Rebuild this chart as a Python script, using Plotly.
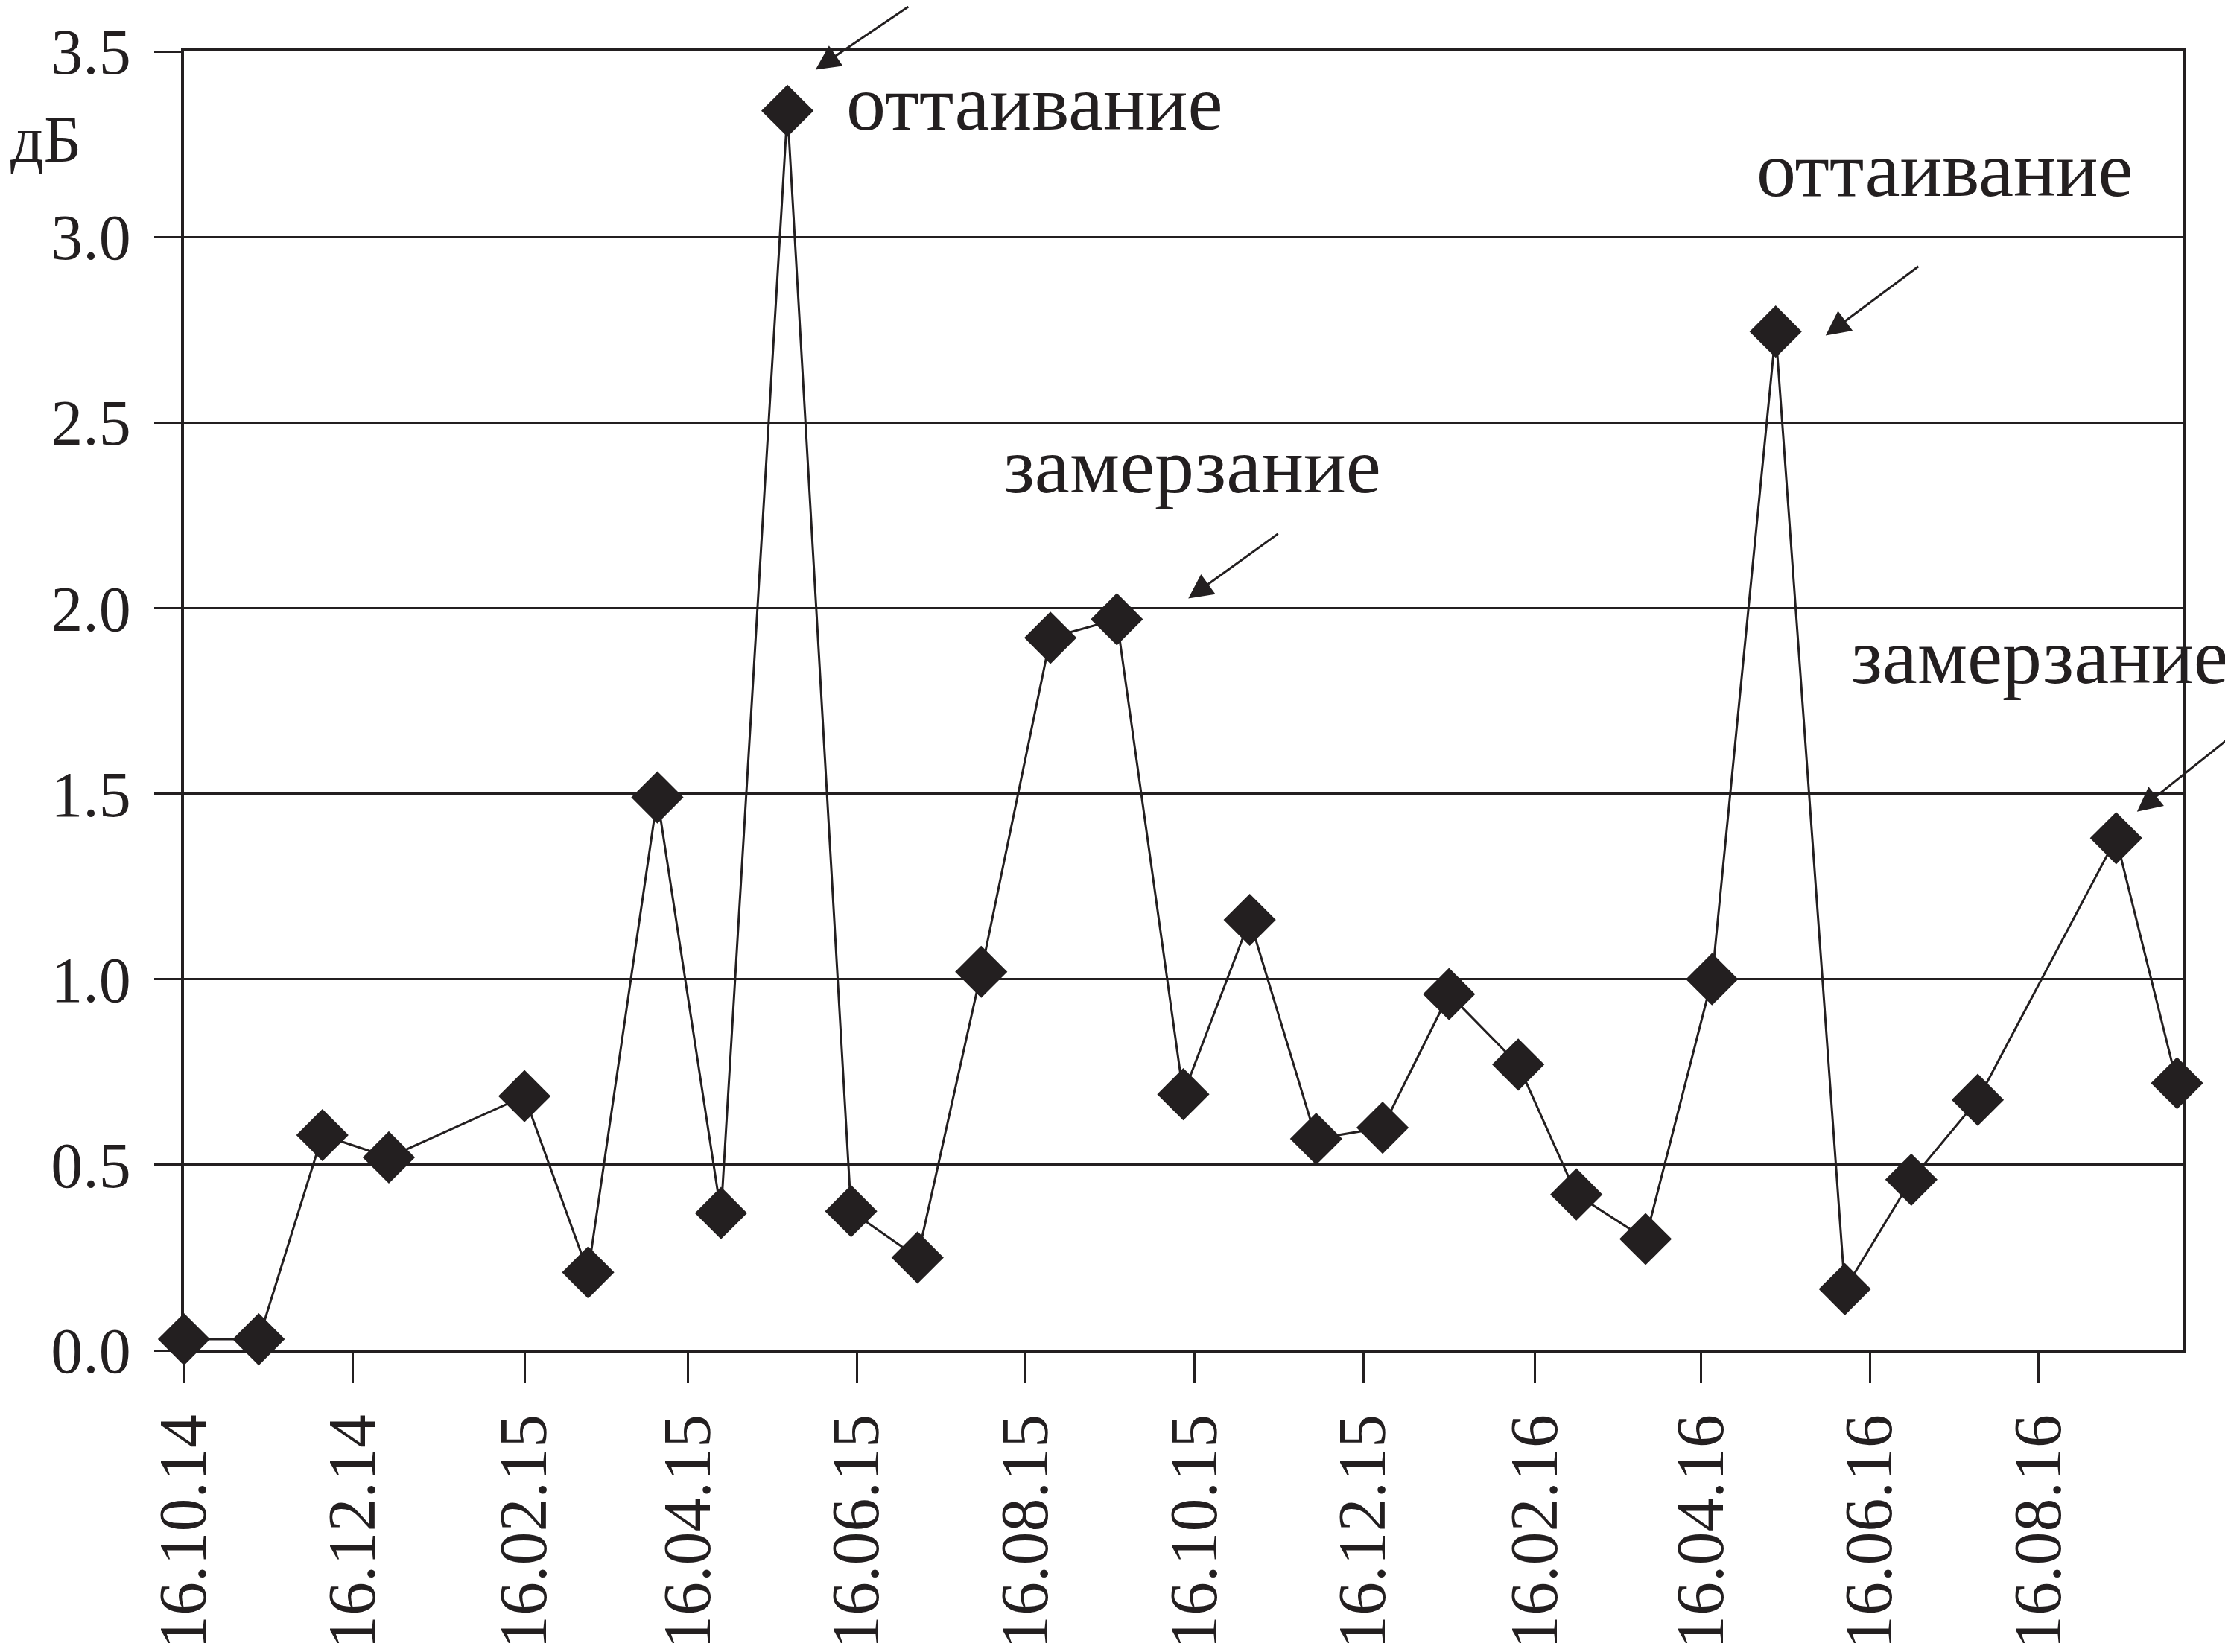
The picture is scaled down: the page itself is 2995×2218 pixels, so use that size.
import plotly.graph_objects as go

# Measurement dates and attenuation values (dB)
dates = [
    "2014-10-16", "2014-11-12", "2014-12-05", "2014-12-29", "2015-02-16",
    "2015-03-11", "2015-04-05", "2015-04-28", "2015-05-22", "2015-06-14",
    "2015-07-08", "2015-07-31", "2015-08-25", "2015-09-18", "2015-10-12",
    "2015-11-05", "2015-11-29", "2015-12-23", "2016-01-16", "2016-02-10",
    "2016-03-02", "2016-03-27", "2016-04-20", "2016-05-13", "2016-06-07",
    "2016-07-01", "2016-07-25", "2016-09-13", "2016-10-05",
]
values = [
    0.03, 0.03, 0.58, 0.52, 0.685,
    0.21, 1.49, 0.37, 3.34, 0.375,
    0.25, 1.02, 1.92, 1.97, 0.69,
    1.16, 0.57, 0.60, 0.96, 0.77,
    0.42, 0.30, 1.00, 2.745, 0.165,
    0.46, 0.675, 1.38, 0.72,
]

y_label = "дБ"
thaw = "оттаивание"
freeze = "замерзание"

INK = "#231f20"
FONT = "Liberation Serif"

fig = go.Figure()
fig.add_trace(go.Scatter(
    x=dates, y=values, mode="lines+markers",
    line=dict(color=INK, width=3),
    marker=dict(symbol="diamond", size=54, color=INK),
    cliponaxis=False, showlegend=False,
))

annotations = []
# text labels (paper coords)
for txt, px, py in [(thaw, 0.4256, 0.960), (thaw, 0.8811, 0.909),
                    (freeze, 0.5046, 0.681), (freeze, 0.9288, 0.534)]:
    annotations.append(dict(text=txt, x=px, y=py, xref="paper", yref="paper",
                            showarrow=False, xanchor="center", yanchor="middle",
                            font=dict(family=FONT, size=106, color=INK)))
# arrows
for px, py, ax, ay in [(0.316, 0.986, 126, -94), (0.8214, 0.7812, 126, -94),
                       (0.5025, 0.5788, 122, -88), (0.9772, 0.4147, 124, -99)]:
    annotations.append(dict(text="", x=px, y=py, xref="paper", yref="paper",
                            showarrow=True, ax=ax, ay=ay, arrowhead=2,
                            arrowsize=2.2, arrowwidth=3, arrowcolor=INK))
# y axis unit
annotations.append(dict(text=y_label, x=-0.0875, y=0.932, xref="paper", yref="paper",
                        showarrow=False, xanchor="left", yanchor="middle",
                        font=dict(family=FONT, size=88, color=INK)))

fig.update_layout(
    width=2995, height=2218,
    margin=dict(l=239, r=73, t=61, b=411),
    paper_bgcolor="white", plot_bgcolor="white",
    font=dict(family=FONT, color=INK),
    annotations=annotations,
    xaxis=dict(
        type="date", range=["2014-10-16", "2016-10-07"],
        tick0="2014-10-16", dtick="M2", tickformat="%d.%m.%y",
        tickangle=-90, ticks="outside", ticklen=40, tickwidth=3, tickcolor=INK,
        showline=True, linewidth=4, linecolor=INK, mirror=True,
        showgrid=False, zeroline=False, ticklabelstandoff=6,
        tickfont=dict(family=FONT, size=90, color=INK),
    ),
    yaxis=dict(
        range=[0, 3.5], dtick=0.5, tick0=0, tickformat=".1f",
        ticks="outside", ticklen=36, tickwidth=3, tickcolor=INK,
        showline=True, linewidth=4, linecolor=INK, mirror=True,
        showgrid=True, gridcolor=INK, gridwidth=3, zeroline=False,
        ticklabelstandoff=14,
        tickfont=dict(family=FONT, size=86, color=INK),
    ),
)

fig.write_html("out.html")
